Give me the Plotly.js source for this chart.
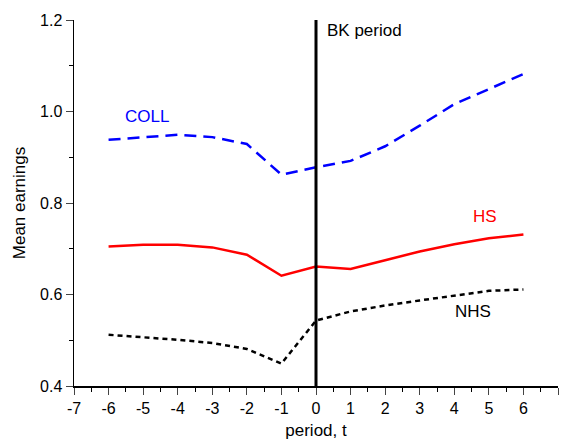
<!DOCTYPE html>
<html>
<head>
<meta charset="utf-8">
<script src="https://cdn.plot.ly/plotly-3.0.1.min.js"></script>
<style>
  html, body { margin: 0; padding: 0; background: #fff; }
  #chart { width: 562px; height: 440px; }
</style>
</head>
<body>
<div id="chart"></div>
<script>
// period relative to the BK filing
const periods = [-6, -5, -4, -3, -2, -1, 0, 1, 2, 3, 4, 5, 6];

// mean earnings by education group
const coll = [0.938, 0.944, 0.949, 0.944, 0.929, 0.862, 0.878, 0.892, 0.924, 0.969, 1.016, 1.049, 1.082];
const hs   = [0.705, 0.709, 0.709, 0.703, 0.687, 0.641, 0.661, 0.656, 0.675, 0.694, 0.710, 0.723, 0.731];
const nhs  = [0.512, 0.507, 0.501, 0.494, 0.481, 0.449, 0.543, 0.563, 0.576, 0.587, 0.597, 0.608, 0.611];

// x tick labels use a plain hyphen like the original
const xTickVals = [-7, -6, -5, -4, -3, -2, -1, 0, 1, 2, 3, 4, 5, 6, 7];
const xTickText = ['-7', '-6', '-5', '-4', '-3', '-2', '-1', '0', '1', '2', '3', '4', '5', '6', '7'];

const font = 'Liberation Sans, Arial, sans-serif';

const traces = [
  { x: periods, y: coll, mode: 'lines', line: { color: '#0000ff', width: 2.5, dash: '12px,7px' } },
  { x: periods, y: hs,   mode: 'lines', line: { color: '#ff0000', width: 2.5 } },
  { x: periods, y: nhs,  mode: 'lines', line: { color: '#000000', width: 2.5, dash: '5px,4px' } }
];

const layout = {
  width: 562,
  height: 440,
  margin: { l: 74, r: 4, t: 20, b: 54 },
  showlegend: false,
  paper_bgcolor: '#fff',
  plot_bgcolor: '#fff',
  font: { family: font, size: 16, color: '#000' },
  xaxis: {
    range: [-7, 7],
    tickmode: 'array',
    tickvals: xTickVals,
    ticktext: xTickText,
    ticks: 'outside',
    ticklen: 7,
    tickwidth: 1,
    tickfont: { size: 16 },
    showgrid: false,
    zeroline: false,
    showline: true,
    linecolor: '#000',
    linewidth: 1.5,
    minor: { dtick: 0.5, ticks: 'outside', ticklen: 4, tickcolor: '#000' },
    title: { text: 'period, t', font: { size: 17 }, standoff: 12 }
  },
  yaxis: {
    range: [0.4, 1.2],
    dtick: 0.2,
    tick0: 0.4,
    tickformat: '.1f',
    ticks: 'outside',
    ticklen: 7,
    tickwidth: 1,
    tickfont: { size: 16 },
    showgrid: false,
    zeroline: false,
    showline: true,
    linecolor: '#000',
    linewidth: 1.5,
    minor: { dtick: 0.1, ticks: 'outside', ticklen: 4, tickcolor: '#000' },
    title: { text: 'Mean earnings', font: { size: 17 }, standoff: 10 }
  },
  shapes: [
    { type: 'line', xref: 'x', yref: 'y', x0: 0, x1: 0, y0: 0.4, y1: 1.2, line: { color: '#000', width: 3 } }
  ],
  annotations: [
    { x: 0.25, y: 1.176, xref: 'x', yref: 'y', text: 'BK period', showarrow: false, xanchor: 'left', font: { size: 17, color: '#000' } },
    { x: -4.9, y: 0.988, xref: 'x', yref: 'y', text: 'COLL', showarrow: false, font: { size: 17, color: '#0000ff' } },
    { x: 4.9, y: 0.77, xref: 'x', yref: 'y', text: 'HS', showarrow: false, font: { size: 17, color: '#ff0000' } },
    { x: 4.55, y: 0.562, xref: 'x', yref: 'y', text: 'NHS', showarrow: false, font: { size: 17, color: '#000' } }
  ]
};

Plotly.newPlot('chart', traces, layout, { displayModeBar: false, staticPlot: true });
</script>
</body>
</html>
